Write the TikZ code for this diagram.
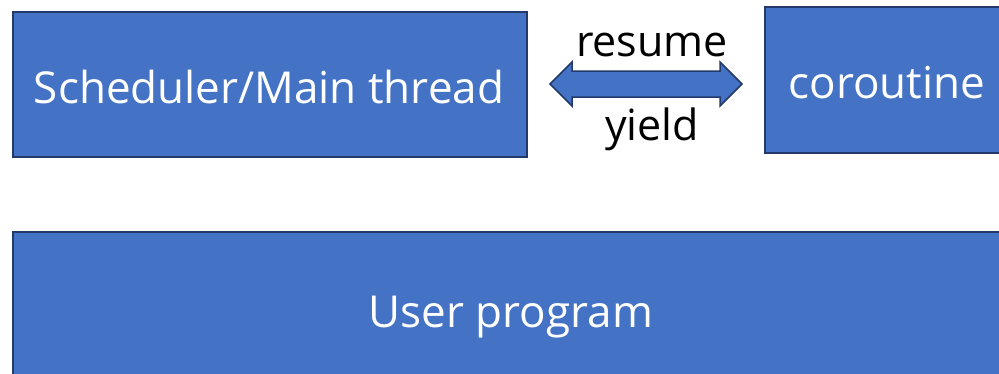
\documentclass[tikz,border=0pt]{standalone}
\usepackage{fontspec}
\setmainfont{Open Sans}
\definecolor{boxfill}{HTML}{4472C4}
\definecolor{boxline}{HTML}{22396A}
\begin{document}
\begin{tikzpicture}[x=1pt,y=-1pt,
  box/.style={fill=boxfill,draw=boxline,line width=2pt},
  boxtext/.style={text=white,font=\fontsize{44}{50}\selectfont,anchor=base,inner sep=0pt},
  lbl/.style={text=black,font=\fontsize{43}{49}\selectfont,anchor=base,inner sep=0pt}]
\useasboundingbox (0,0) rectangle (999,373);
\begin{scope}
\clip (0,0) rectangle (999,373);
\draw[box] (13,12) rectangle (527,157);
\draw[box] (765,7) rectangle (1010,153);
\draw[box] (13,232) rectangle (1010,390);
\end{scope}
\node[boxtext] (sched) at (269,103) {Scheduler/Main thread};
\node[boxtext] (co) at (887,98) {coroutine};
\node[boxtext] (user) at (511,327) {User program};
\coordinate (lt) at (550,84);
\coordinate (rt) at (742,84);
\draw[box,line width=1.5pt,line join=miter] (lt) -- (572,62) -- (572,71) -- (720,71) -- (720,62) -- (rt) -- (720,106) -- (720,97) -- (572,97) -- (572,106) -- cycle;
\node[lbl] (resume) at (652,56) {resume};
\node[lbl] (yield) at (652,140) {yield};
\end{tikzpicture}
\end{document}
